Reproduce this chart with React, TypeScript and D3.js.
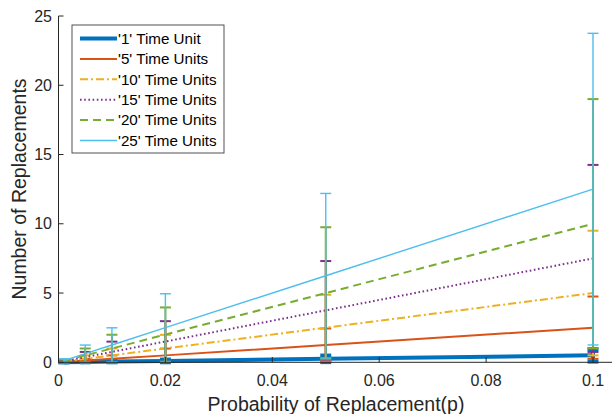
import React from "react";
import * as d3 from "d3";

const probs = [0.001, 0.005, 0.01, 0.02, 0.05, 0.1];
const seriesNames = ["'1' Time Unit", "'5' Time Units", "'10' Time Units", "'15' Time Units", "'20' Time Units", "'25' Time Units"];
const mean1 = [0.005, 0.025, 0.05, 0.1, 0.25, 0.5];
const mean5 = [0.025, 0.125, 0.25, 0.5, 1.25, 2.5];
const mean10 = [0.05, 0.25, 0.5, 1, 2.5, 5];
const mean15 = [0.075, 0.375, 0.75, 1.5, 3.75, 7.5];
const mean20 = [0.1, 0.5, 1, 2, 5, 10];
const mean25 = [0.125, 0.625, 1.25, 2.5, 6.25, 12.5];
const err1 = [0.005, 0.025, 0.0495, 0.098, 0.2375, 0.45];
const err5 = [0.025, 0.124, 0.2475, 0.49, 1.19, 2.25];
const err10 = [0.05, 0.249, 0.495, 0.98, 2.375, 4.5];
const err15 = [0.075, 0.373, 0.7425, 1.47, 3.56, 6.75];
const err20 = [0.1, 0.4975, 0.99, 1.96, 4.75, 9];
const err25 = [0.125, 0.62, 1.24, 2.45, 5.94, 11.25];
const xTicks = [0, 0.02, 0.04, 0.06, 0.08, 0.1];
const yTicks = [0, 5, 10, 15, 20, 25];

const means = [mean1, mean5, mean10, mean15, mean20, mean25];
const errs = [err1, err5, err10, err15, err20, err25];
const colors = ["#0072BD", "#D95319", "#EDB120", "#7E2F8E", "#77AC30", "#4DBEEE"];
const widths = [4, 2, 2, 2, 2, 1.4];
const dashes = [null, null, "8,3,2,3", "1.6,2.6", "8,5", null];

const W = 612, H = 414;
const FONT = "'Liberation Sans', Arial, Helvetica, sans-serif";
const AX = "#262626";

export default function App() {
  const x = d3.scaleLinear().domain([0, 0.1]).range([58.5, 593]);
  const y = d3.scaleLinear().domain([0, 25]).range([362.3, 16]);
  const line = d3.line<number>().x((_, i) => x(probs[i])).y((d) => y(d));
  const cap = 5.5;
  const legX = 72, legY = 25, legW = 152, legH = 128;
  return (
    <svg width={W} height={H} style={{ position: "absolute", left: 0, top: 0, background: "#fff" }} fontFamily={FONT}>
      <rect x={0} y={0} width={W} height={H} fill="#fff" />
      {means.map((m, s) => (
        <g key={s}>
          <path d={line(m) || ""} fill="none" stroke={colors[s]} strokeWidth={widths[s]} strokeDasharray={dashes[s] || undefined} />
          {m.map((v, i) => {
            const px = x(probs[i]);
            const lo = y(v - errs[s][i]);
            const hi = y(v + errs[s][i]);
            const lw = widths[s];
            return (
              <g key={i} stroke={colors[s]} strokeWidth={lw}>
                <line x1={px} x2={px} y1={lo} y2={hi} />
                <line x1={px - cap} x2={px + cap} y1={hi} y2={hi} />
                <line x1={px - cap} x2={px + cap} y1={lo} y2={lo} />
              </g>
            );
          })}
        </g>
      ))}
      {/* axes */}
      <line x1={58.5} x2={612} y1={362.3} y2={362.3} stroke={AX} strokeWidth={1} />
      <line x1={58.5} x2={58.5} y1={16} y2={362.3} stroke={AX} strokeWidth={1} />
      {xTicks.map((t) => (
        <g key={t}>
          <line x1={x(t)} x2={x(t)} y1={362.3} y2={357} stroke={AX} />
          <text x={x(t)} y={386} textAnchor="middle" fontSize={16} fill={AX}>{String(t)}</text>
        </g>
      ))}
      {yTicks.map((t) => (
        <g key={t}>
          <line x1={58.5} x2={63.5} y1={y(t)} y2={y(t)} stroke={AX} />
          <text x={52} y={y(t) + 5.5} textAnchor="end" fontSize={16} fill={AX}>{String(t)}</text>
        </g>
      ))}
      <text x={336} y={411} textAnchor="middle" fontSize={19.5} fill={AX}>Probability of Replacement(p)</text>
      <text transform={`translate(25.5,189) rotate(-90)`} textAnchor="middle" fontSize={19.5} fill={AX}>Number of Replacements</text>
      {/* legend */}
      <rect x={legX} y={legY} width={legW} height={legH} fill="#fff" stroke={AX} strokeWidth={0.8} />
      {seriesNames.map((n, s) => {
        const ry = 38.5 + s * 20.4;
        return (
          <g key={n}>
            <line x1={80} x2={117} y1={ry} y2={ry} stroke={colors[s]} strokeWidth={widths[s]} strokeDasharray={dashes[s] || undefined} />
            <text x={118} y={ry + 5.2} fontSize={15.2} fill="#000">{n}</text>
          </g>
        );
      })}
    </svg>
  );
}
